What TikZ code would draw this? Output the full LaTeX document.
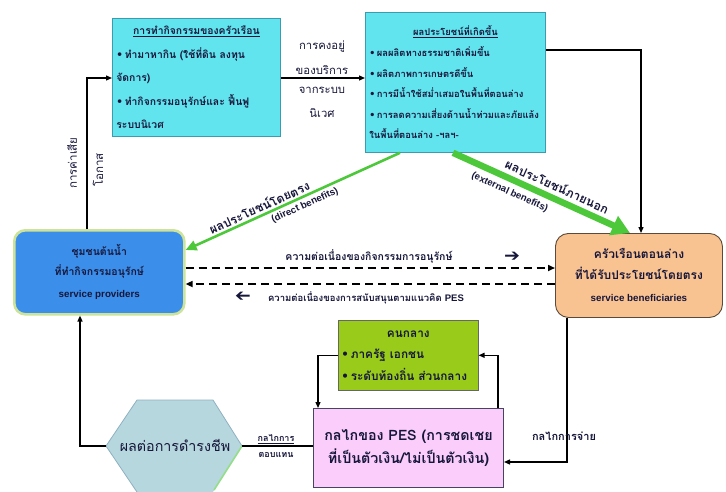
\documentclass[tikz,border=0pt]{standalone}
\usepackage{fontspec}
\usepackage{graphicx}
\usetikzlibrary{arrows.meta}
\setmainfont[Script=Thai]{Loma}
\newfontfamily\en{Liberation Sans}
\newfontfamily\sym{DejaVu Sans}
\newcommand\bul{{\sym •}\,}
\newcommand\heavyarrow{\scalebox{1.9}[1.7]{\sym ➔}}
\definecolor{cyfill}{HTML}{62E4EF}
\definecolor{cyline}{HTML}{3A9CAE}
\definecolor{provfill}{HTML}{3B8FEA}
\definecolor{provline}{HTML}{CDE39A}
\definecolor{benfill}{HTML}{F8C291}
\definecolor{benline}{HTML}{5A4A3A}
\definecolor{midfill}{HTML}{99CC1A}
\definecolor{pesfill}{HTML}{FBCDFB}
\definecolor{hexfill}{HTML}{B7D7DE}
\definecolor{hexline}{HTML}{8FB0C0}
\definecolor{arrgreen}{HTML}{4DC83A}
\definecolor{ink}{HTML}{16163A}
\tikzset{
  cybox/.style={draw=cyline, fill=cyfill, line width=0.8pt, anchor=north west,
    align=left, inner sep=4pt, text=ink, font=\bfseries\fontsize{10.4}{23.5}\selectfont},
  provbox/.style={draw=provline, fill=provfill, line width=2.6pt, rounded corners=11pt,
    anchor=north west, minimum width=170pt, minimum height=84pt, align=center, text=ink,
    font=\bfseries\fontsize{10.5}{20}\selectfont},
  benbox/.style={draw=benline, fill=benfill, line width=0.9pt, rounded corners=13pt,
    anchor=north west, minimum width=167pt, minimum height=84pt, align=center, text=ink,
    font=\bfseries\fontsize{12}{21}\selectfont},
  midbox/.style={draw=black!60, fill=midfill, line width=0.6pt, anchor=north west,
    minimum width=140pt, minimum height=70pt, align=left, text=ink, inner sep=3pt,
    font=\bfseries\fontsize{11.8}{21.5}\selectfont},
  pesbox/.style={draw=ink!80, fill=pesfill, line width=1pt, anchor=north west,
    minimum width=190pt, minimum height=79pt, align=center, text=ink,
    font=\bfseries\fontsize{14.3}{23}\selectfont},
  conn/.style={draw=black, line width=1.3pt, -{Triangle[length=6pt,width=5pt]}},
  dasharr/.style={draw=black, line width=1.6pt, dash pattern=on 8pt off 5pt,
    -{Triangle[length=7pt,width=6pt]}},
  gthin/.style={draw=arrgreen, line width=2.6pt, -{Triangle[length=11pt,width=10pt]}},
  gthick/.style={draw=arrgreen, line width=6.5pt, -{Triangle[length=18pt,width=20pt]}},
  lbl/.style={text=ink, inner sep=1pt},
  glbl/.style={text=ink, inner sep=2pt, font=\bfseries\fontsize{12.3}{14}\selectfont},
  elbl/.style={text=ink, inner sep=2pt, font=\en\bfseries\fontsize{9.6}{11}\selectfont},
}
\begin{document}
\begin{tikzpicture}[x=1pt,y=-1pt]
\useasboundingbox (0,0) rectangle (726,491);

% ---- household activities and the benefits they produce
\node[cybox, minimum width=168pt, minimum height=118pt] (hh) at (112,18)
  {\makebox[160pt]{\underline{การทำกิจกรรมของครัวเรือน}}\\
   \bul ทำมาหากิน (ใช้ที่ดิน ลงทุน\\
   จัดการ)\\
   \bul ทำกิจกรรมอนุรักษ์และ ฟื้นฟู\\
   ระบบนิเวศ};
\node[cybox, minimum width=180pt, minimum height=140pt,
      font=\bfseries\fontsize{9.4}{20.6}\selectfont] (pb) at (365,12)
  {\makebox[172pt]{\underline{ผลประโยชน์ที่เกิดขึ้น}}\\
   \bul ผลผลิตทางธรรมชาติเพิ่มขึ้น\\
   \bul ผลิตภาพการเกษตรดีขึ้น\\
   \bul การมีน้ำใช้สม่ำเสมอในพื้นที่ตอนล่าง\\
   \bul การลดความเสี่ยงด้านน้ำท่วมและภัยแล้ง\\
   ในพื้นที่ตอนล่าง -ฯลฯ-};

% ---- upstream providers and downstream beneficiaries
\node[provbox] (prov) at (13,229)
  {ชุมชนต้นน้ำ\\ ที่ทำกิจกรรมอนุรักษ์\\[2pt]
   \en\fontsize{9.8}{11}\selectfont service providers};
\node[benbox] (ben) at (555,233)
  {ครัวเรือนตอนล่าง\\ ที่ได้รับประโยชน์โดยตรง\\[1pt]
   \en\fontsize{9.8}{11}\selectfont service beneficiaries};

% ---- intermediaries and the PES mechanism
\node[midbox] (mid) at (338,320)
  {\makebox[134pt]{คนกลาง}\\
   \bul ภาครัฐ เอกชน\\
   \bul ระดับท้องถิ่น ส่วนกลาง};
\node[pesbox] (pes) at (313,408)
  {กลไกของ PES (การชดเชย\\ ที่เป็นตัวเงิน/ไม่เป็นตัวเงิน)};

% ---- livelihood hexagon
\coordinate (hexL) at (106,446);
\coordinate (hexR) at (242,446);
\fill[hexfill] (hexL) -- (137,400) -- (213,400) -- (hexR) -- (213,492) -- (137,492) -- cycle;
\draw[hexline, line width=0.8pt] (137,492) -- (hexL) -- (137,400) -- (213,400) -- (hexR);
\draw[arrgreen!60, line width=1.6pt] (hexR) -- (214,490);
\node[lbl, font=\fontsize{14.3}{16}\selectfont] (hex) at (175,445) {ผลต่อการดำรงชีพ};

% ---- ecosystem services flowing between the top boxes
\coordinate (svc) at (0,78);
\draw[conn] (hh.east |- svc) -- (pb.west |- svc);
\node[lbl, anchor=south, align=center, font=\fontsize{11.3}{25}\selectfont] (keep1) at (322,76)
  {การคงอยู่\\ ของบริการ};
\node[lbl, anchor=north, align=center, font=\fontsize{11.3}{24}\selectfont] (keep2) at (322,86)
  {จากระบบ\\ นิเวศ};

% ---- opportunity cost feeding back to the household box
\coordinate (opp) at (87,78);
\draw[conn] (prov.north -| opp) -- (opp) -- (opp -| hh.west);
\node[lbl, rotate=90, font=\fontsize{11.5}{13}\selectfont] (oppA) at (72,163) {การค่าเสีย};
\node[lbl, rotate=90, font=\fontsize{11.5}{13}\selectfont] (oppB) at (98,170) {โอกาส};

% ---- benefits down to the beneficiaries
\coordinate (rt) at (641,50);
\draw[conn] (pb.east |- rt) -- (rt) -- (rt |- ben.north);

% ---- green benefit arrows
\coordinate (dS) at (400,0);
\coordinate (dE) at (0,250);
\draw[gthin] (pb.south -| dS) -- (prov.east |- dE)
  node[glbl, pos=0.64, sloped, anchor=south] (dlbl) {ผลประโยชน์โดยตรง}
  node[elbl, pos=0.46, sloped, anchor=north, inner sep=3pt] (dlbl2) {(direct benefits)};
\coordinate (eS) at (453,0);
\coordinate (eE) at (630,0);
\draw[gthick] (pb.south -| eS) -- (ben.north -| eE)
  node[glbl, pos=0.56, sloped, anchor=south, inner sep=4pt] (elbl1) {ผลประโยชน์ภายนอก}
  node[elbl, pos=0.35, sloped, anchor=north, inner sep=5pt] (elbl2) {(external benefits)};

% ---- continuity arrows between providers and beneficiaries
\coordinate (y1) at (0,268);
\coordinate (y2) at (0,284);
\draw[dasharr] (prov.east |- y1) -- (ben.west |- y1);
\draw[dasharr] (ben.west |- y2) -- (prov.east |- y2);
\node[lbl, font=\bfseries\fontsize{10.5}{12}\selectfont] (cont1) at (369,256)
  {ความต่อเนื่องของกิจกรรมการอนุรักษ์};
\node[lbl, font=\fontsize{10}{12}\selectfont] (cont1a) at (512,257) {\heavyarrow};
\node[lbl, font=\bfseries\fontsize{9.5}{11}\selectfont] (cont2) at (366,298)
  {ความต่อเนื่องของการสนับสนุนตามแนวคิด {\en PES}};
\node[lbl, font=\fontsize{10}{12}\selectfont] (cont2a) at (243,297) {\reflectbox{\heavyarrow}};

% ---- intermediaries <-> PES mechanism
\coordinate (gl) at (318,0);
\coordinate (gr) at (498,0);
\draw[conn] (mid.west) -| (gl |- pes.north);
\draw[conn] (gr |- pes.north) |- (mid.east);

% ---- payment from beneficiaries
\coordinate (pay) at (567,462);
\draw[conn] (ben.south -| pay) |- (pes.east |- pay);
\node[lbl, font=\bfseries\fontsize{11}{12}\selectfont] (paylbl) at (564,436) {กลไกการจ่าย};

% ---- compensation to livelihoods and back to providers
\draw[line width=1.3pt] (pes.west |- hexR) -- (hexR);
\node[lbl, anchor=south, font=\bfseries\fontsize{9}{10}\selectfont] (comp1) at (276,445) {\underline{กลไกการ}};
\node[lbl, anchor=north, font=\bfseries\fontsize{9}{10}\selectfont] (comp2) at (276,451) {ตอบแทน};
\coordinate (lv) at (80,446);
\draw[conn] (hexL) -- (lv) -- (lv |- prov.south);
\end{tikzpicture}
\end{document}
